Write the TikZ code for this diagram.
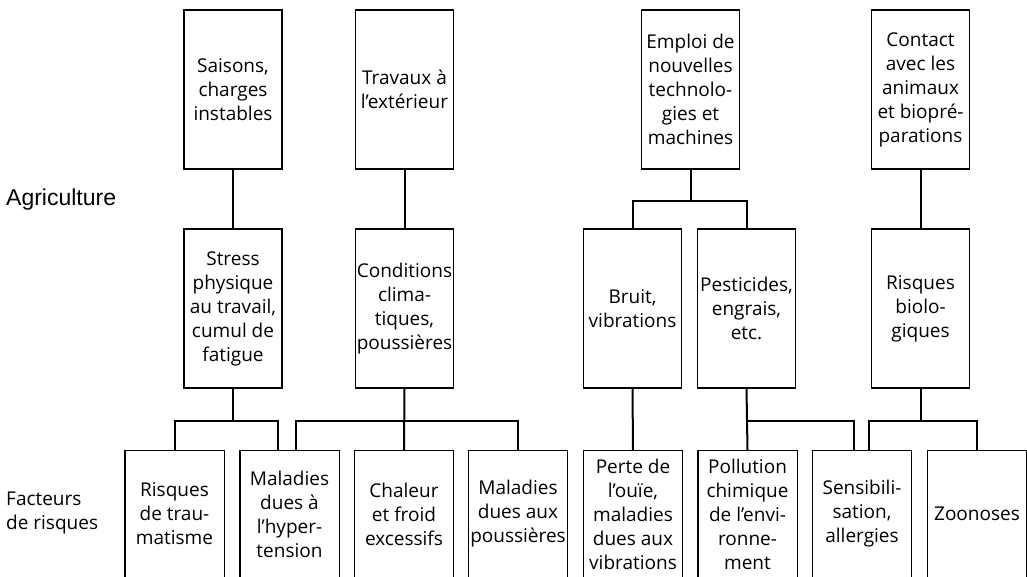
\documentclass[tikz,border=0pt]{standalone}
\usepackage{fontspec}
\setmainfont{Open Sans}
\newfontfamily\arialfont{Liberation Sans}
\begin{document}
\begin{tikzpicture}[x=1pt,y=-1pt,
  box/.style={line width=1.2pt,minimum width=98pt,inner sep=0pt,align=center,
    font=\fontsize{19}{24}\selectfont},
  tbox/.style={box,draw,minimum height=159pt},
  bbox/.style={box,minimum height=126pt},
  frame/.style={line width=1.2pt},
  conn/.style={line width=2pt}]
\useasboundingbox (0,0) rectangle (1027,576);
\clip (0,0) rectangle (1027,576);
% top row
\node[tbox] (saisons) at (233,89.5) {Saisons,\\charges\\instables};
\node[tbox] (travaux) at (404.5,89.5) {Travaux à\\l’extérieur};
\node[tbox] (emploi) at (690.5,89.5) {Emploi de\\nouvelles\\technolo-\\gies et\\machines};
\node[tbox] (contact) at (920.5,89.5) {Contact\\avec les\\animaux\\et biopré-\\parations};
% middle row
\node[tbox] (stress) at (233,308.5) {Stress\\physique\\au travail,\\cumul de\\fatigue};
\node[tbox] (conditions) at (404.5,308.5) {Conditions\\clima-\\tiques,\\poussières};
\node[tbox] (bruit) at (632.5,308.5) {Bruit,\\vibrations};
\node[tbox] (pesticides) at (746.5,308.5) {Pesticides,\\engrais,\\etc.};
\node[tbox] (biorisques) at (920.5,308.5) {Risques\\biolo-\\giques};
% bottom row (frames run past the lower edge)
\node[bbox] (traum) at (174.5,514) {Risques\\de trau-\\matisme};
\node[bbox] (hyper) at (289.5,514) {Maladies\\dues à\\l’hyper-\\tension};
\node[bbox] (chaleur) at (404,514) {Chaleur\\et froid\\excessifs};
\node[bbox] (pouss) at (518,514) {Maladies\\dues aux\\poussières};
\node[bbox] (perte) at (633,514) {Perte de\\l’ouïe,\\maladies\\dues aux\\vibrations};
\node[bbox] (pollution) at (747.5,514) {Pollution\\chimique\\de l’envi-\\ronne-\\ment};
\node[bbox] (sensib) at (862,514) {Sensibili-\\sation,\\allergies};
\node[bbox] (zoon) at (977,514) {Zoonoses};
\foreach \n in {traum,hyper,chaleur,pouss,perte,pollution,sensib,zoon}
  \draw[frame] ([yshift=-10pt]\n.south west) rectangle (\n.north east);
% side labels
\node[anchor=west,inner sep=0pt,font=\arialfont\fontsize{23}{27}\selectfont] (agri) at (6,200) {Agriculture};
\node[anchor=west,inner sep=0pt,align=left,font=\fontsize{19}{24}\selectfont] (fact) at (6,513) {Facteurs\\de risques};
% connectors
\draw[conn] (saisons.south) -- (stress.north);
\draw[conn] (travaux.south) -- (conditions.north);
\draw[conn] (contact.south) -- (biorisques.north);
\draw[conn] (emploi.south) -- ++(0,31) coordinate (e1);
\draw[conn] (bruit.north) |- (e1) -| (pesticides.north);
\draw[conn] (stress.south) -- ++(0,32) coordinate (s1);
\draw[conn] (traum.north) |- (s1) -| ([xshift=-11.5pt]hyper.north);
\draw[conn] (conditions.south) -- (chaleur.north);
\path (conditions.south) ++(0,32) coordinate (c1);
\draw[conn] ([xshift=6.5pt]hyper.north) |- (c1) -| (pouss.north);
\draw[conn] (bruit.south) -- (perte.north);
\draw[conn] (pesticides.south) -- (pollution.north);
\path (pesticides.south) ++(0,32) coordinate (p1);
\draw[conn] (p1) -| ([xshift=-8pt]sensib.north);
\draw[conn] (biorisques.south) -- ++(0,32) coordinate (b1);
\draw[conn] ([xshift=7pt]sensib.north) |- (b1) -| (zoon.north);
\end{tikzpicture}
\end{document}
